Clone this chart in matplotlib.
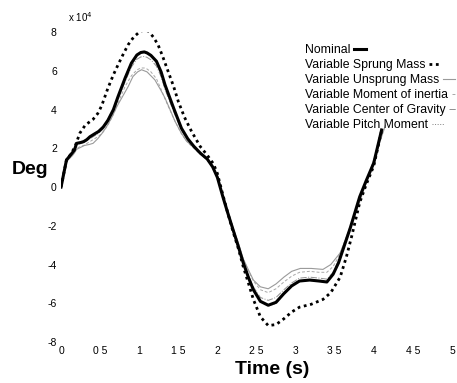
import matplotlib
matplotlib.use("Agg")
import matplotlib.pyplot as plt

plt.rcParams['font.family'] = ['Liberation Sans', 'DejaVu Sans']
plt.rcParams['axes.unicode_minus'] = False

# time samples (s) and responses (x 1e4 deg)
t_nom = [0, 0.01, 0.04, 0.07, 0.1, 0.14, 0.17, 0.2, 0.25, 0.29,
         0.33, 0.37, 0.43, 0.48, 0.54, 0.6, 0.67, 0.73, 0.82, 0.9,
         0.97, 1.02, 1.065, 1.1, 1.15, 1.22, 1.28, 1.33, 1.44, 1.54,
         1.62, 1.7, 1.78, 1.87, 1.94, 2.0, 2.07, 2.13, 2.2, 2.27,
         2.33, 2.4, 2.46, 2.55, 2.65, 2.75, 2.85, 2.95, 3.05, 3.18,
         3.3, 3.4, 3.48, 3.55, 3.6, 3.7, 3.82, 3.9, 4.0, 4.1]
nominal = [0, 0.19, 0.8, 1.4, 1.55, 1.75, 1.9, 2.26, 2.3, 2.35,
           2.45, 2.6, 2.75, 2.87, 3.1, 3.45, 4.0, 4.68, 5.63, 6.4,
           6.82, 6.95, 6.98, 6.93, 6.8, 6.5, 5.95, 5.28, 4.08, 3.04,
           2.5, 2.1, 1.76, 1.45, 1.04, 0.5, -0.5, -1.3, -2.2, -3.1,
           -3.9, -4.7, -5.3, -5.9, -6.1, -5.95, -5.5, -5.1, -4.85, -4.8,
           -4.85, -4.9, -4.5, -3.9, -3.3, -2.1, -0.5, 0.3, 1.25, 2.95]
inertia = [0, 0.18, 0.75, 1.3, 1.45, 1.6, 1.8, 2.0, 2.1, 2.15,
           2.25, 2.35, 2.5, 2.62, 2.85, 3.2, 3.75, 4.35, 5.2, 5.75,
           6.05, 6.15, 6.15, 6.1, 5.95, 5.6, 5.05, 4.55, 3.55, 2.75,
           2.3, 2.0, 1.7, 1.4, 1.0, 0.5, -0.5, -1.25, -2.1, -2.95,
           -3.7, -4.35, -4.85, -5.3, -5.45, -5.25, -4.9, -4.6, -4.4, -4.35,
           -4.4, -4.4, -4.1, -3.6, -3.1, -2.0, -0.5, 0.3, 1.3, 3.0]
gravity = [0, 0.19, 0.8, 1.38, 1.52, 1.7, 1.85, 2.2, 2.25, 2.3,
           2.4, 2.5, 2.65, 2.78, 3.0, 3.35, 3.9, 4.55, 5.45, 6.2,
           6.6, 6.72, 6.75, 6.7, 6.57, 6.25, 5.7, 5.05, 3.9, 2.95,
           2.45, 2.05, 1.72, 1.42, 1.02, 0.5, -0.5, -1.3, -2.2, -3.05,
           -3.85, -4.6, -5.15, -5.7, -5.85, -5.7, -5.3, -4.95, -4.7, -4.65,
           -4.7, -4.75, -4.4, -3.8, -3.25, -2.05, -0.5, 0.3, 1.27, 2.97]
pitch = [0, 0.2, 0.82, 1.42, 1.56, 1.76, 1.92, 2.27, 2.32, 2.37,
         2.47, 2.62, 2.77, 2.9, 3.15, 3.5, 4.05, 4.75, 5.7, 6.45,
         6.85, 6.97, 7.0, 6.95, 6.82, 6.52, 5.98, 5.3, 4.1, 3.06,
         2.52, 2.12, 1.78, 1.47, 1.05, 0.52, -0.5, -1.3, -2.2, -3.1,
         -3.92, -4.72, -5.35, -5.95, -6.15, -6.0, -5.55, -5.15, -4.88, -4.82,
         -4.87, -4.92, -4.52, -3.92, -3.3, -2.1, -0.5, 0.3, 1.25, 2.95]

t_spr = [0, 0.01, 0.04, 0.07, 0.1, 0.14, 0.18, 0.24, 0.31, 0.36,
         0.41, 0.47, 0.52, 0.6, 0.67, 0.73, 0.8, 0.86, 0.93, 1.0,
         1.065, 1.12, 1.18, 1.24, 1.3, 1.37, 1.44, 1.5, 1.58, 1.67,
         1.78, 1.87, 1.95, 2.0, 2.07, 2.13, 2.2, 2.27, 2.33, 2.4,
         2.46, 2.55, 2.65, 2.75, 2.85, 2.95, 3.05, 3.2, 3.35, 3.45,
         3.57, 3.65, 3.72, 3.82, 3.9, 4.0, 4.1]
sprung = [0, 0.19, 0.8, 1.4, 1.55, 1.8, 2.1, 2.78, 3.2, 3.35,
          3.5, 3.8, 4.2, 5.11, 5.8, 6.32, 6.9, 7.36, 7.75, 8.0,
          8.13, 8.05, 7.75, 7.36, 6.75, 5.97, 5.2, 4.42, 3.6, 2.87,
          2.1, 1.65, 1.2, 0.7, -0.4, -1.3, -2.3, -3.2, -4.1, -5.0,
          -5.8, -6.7, -7.15, -7.1, -6.8, -6.45, -6.2, -6.05, -5.8, -5.45,
          -4.65, -3.6, -2.5, -0.8, 0.1, 1.1, 2.9]

t_uns = [0, 0.01, 0.04, 0.07, 0.1, 0.14, 0.17, 0.2, 0.25, 0.3,
         0.36, 0.41, 0.47, 0.52, 0.58, 0.65, 0.72, 0.8, 0.86, 0.92,
         0.98, 1.03, 1.1, 1.2, 1.27, 1.33, 1.4, 1.46, 1.53, 1.6,
         1.75, 1.87, 1.95, 2.0, 2.07, 2.13, 2.2, 2.27, 2.33, 2.4,
         2.46, 2.55, 2.65, 2.75, 2.85, 2.95, 3.06, 3.2, 3.35, 3.45,
         3.57, 3.65, 3.8, 3.9, 4.0, 4.15]
unsprung = [0, 0.18, 0.75, 1.3, 1.45, 1.6, 1.75, 1.95, 2.05, 2.15,
            2.2, 2.26, 2.5, 2.75, 3.1, 3.6, 4.2, 4.77, 5.2, 5.71,
            5.95, 6.06, 5.95, 5.54, 5.05, 4.6, 3.95, 3.38, 2.85, 2.4,
            1.85, 1.45, 1.0, 0.5, -0.5, -1.25, -2.1, -2.9, -3.7, -4.3,
            -4.8, -5.15, -5.25, -5.0, -4.65, -4.35, -4.2, -4.2, -4.25, -4.0,
            -3.4, -2.6, -1.0, 0.2, 1.4, 3.2]

labels = ['Nominal', 'Variable Sprung Mass', 'Variable Unsprung Mass',
          'Variable Moment of inertia', 'Variable Center of Gravity', 'Variable Pitch Moment']
x_ticks = [0, 0.5, 1, 1.5, 2, 2.5, 3, 3.5, 4, 4.5, 5]
x_ticklabels = ['0', '0 5', '1', '1 5', '2', '2 5', '3', '3 5', '4', '4 5', '5']
y_ticks = [-8, -6, -4, -2, 0, 2, 4, 6, 8]

fig = plt.figure(figsize=(4.57, 3.83), dpi=100)
ax = fig.add_axes([0.1335, 0.107, 0.8555, 0.809])

ax.plot(t_nom, inertia, color='#a8a8a8', lw=0.7, ls=(0, (3, 2)), label=labels[3])
ax.plot(t_nom, gravity, color='#909090', lw=0.7, ls='-.', label=labels[4])
ax.plot(t_nom, pitch, color='#808080', lw=0.7, ls=':', label=labels[5])
ax.plot(t_uns, unsprung, color='#9a9a9a', lw=0.8, label=labels[2])
ax.plot(t_spr, sprung, color='black', lw=2.0, ls=(0, (1, 1.3)), label=labels[1])
ax.plot(t_nom, nominal, color='black', lw=2.2, label=labels[0])

ax.set_xlim(0, 5)
ax.set_ylim(-8, 8)
ax.set_xticks(x_ticks)
ax.set_xticklabels(x_ticklabels)
ax.set_yticks(y_ticks)
ax.tick_params(length=0, labelsize=7.5, pad=3)
for s in ax.spines.values():
    s.set_visible(False)

fig.text(0.148, 0.955, r'x 10$^4$', fontsize=7, ha='left', va='center')
fig.text(0.065, 1 - 169 / 383, 'Deg', fontsize=14, fontweight='bold', ha='center', va='center')
fig.text(272 / 457, 1 - 370 / 383, 'Time (s)', fontsize=14, fontweight='bold', ha='center', va='center')

handles, labs = ax.get_legend_handles_labels()
order = [labs.index(l) for l in labels]
leg = ax.legend([handles[i] for i in order], labels, loc='upper left',
                bbox_to_anchor=(305 / 457, 1 - 44 / 383), bbox_transform=fig.transFigure,
                frameon=False, markerfirst=False, fontsize=8.8, labelspacing=0.25,
                handlelength=1.0, handletextpad=0.3, borderpad=0, borderaxespad=0)
# keep the labels left aligned, handles after the text
for col in leg._legend_handle_box.get_children():
    col.align = 'left'

fig.savefig('out.png', dpi=100)
